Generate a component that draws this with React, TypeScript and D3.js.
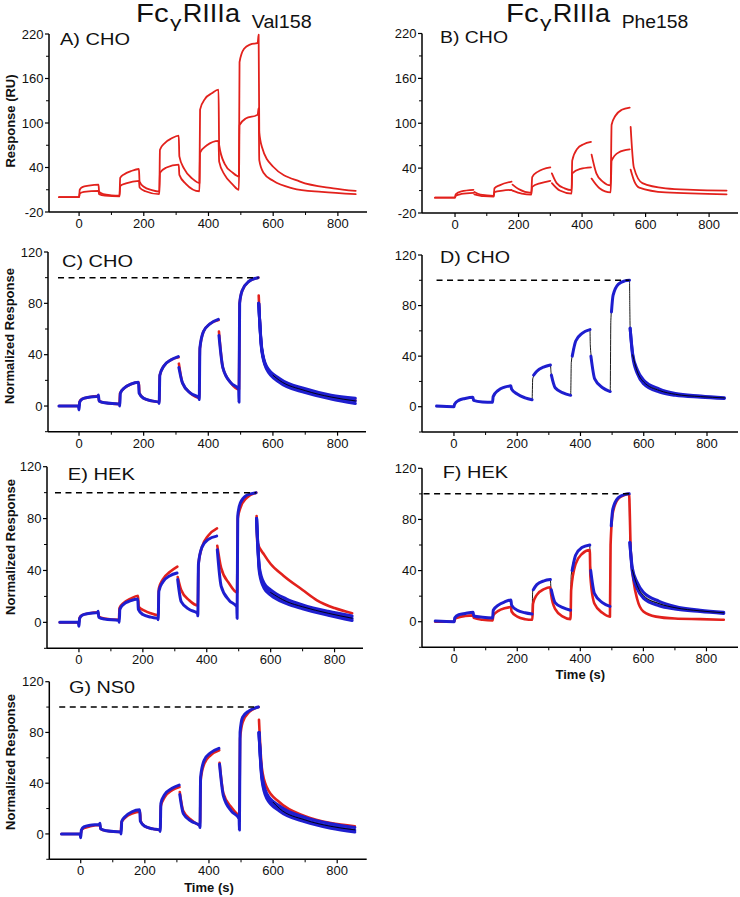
import React from "react";
import * as d3 from "d3";

type Pt = [number, number] | null;

const RED = "#e2211c";
const BLUE = "#1e1ecf";

// ---------- tick labels ----------
const rawMajor = [-20, 40, 100, 160, 220];
const rawMinor = [10, 70, 130, 190];
const normMajor = [0, 40, 80, 120];
const normMinor = [-20, 20, 60, 100];
const timeMajor = [0, 200, 400, 600, 800];
const timeMinor = [100, 300, 500, 700];

// ---------- Panel A: Val158 CHO (RU) ----------
const aUpper: Pt[] = [
  [-62, 0], [0, 0], [2, 10], [10, 13.5], [30, 15.5], [60, 17],
  [62, 7], [75, 4], [100, 2.5], [125, 2],
  [127, 26], [140, 31], [160, 35], [185, 38],
  [187, 21], [200, 14], [225, 9.5], [248, 7.5],
  [250, 64], [265, 73], [285, 79], [308, 83],
  [310, 55], [325, 38], [350, 25], [372, 19],
  [374, 118], [390, 133], [410, 140], [431, 145],
  [433, 70], [450, 45], [475, 33], [494, 28],
  [496, 182], [510, 200], [530, 206], [552, 208], [555, 219],
  [557, 88], [565, 68], [600, 41], [683, 21], [786, 12], [855, 8.5],
];
const aLower: Pt[] = [
  [-62, 0], [0, 0], [2, 5], [15, 7], [60, 8.5],
  [62, 4], [80, 2], [125, 1],
  [127, 15], [145, 18.5], [185, 22],
  [187, 13], [205, 8], [248, 4],
  [250, 33], [270, 40], [308, 44],
  [310, 30], [330, 18], [372, 8],
  [374, 60], [395, 70], [431, 76],
  [433, 48], [450, 30], [475, 17], [494, 10],
  [496, 97], [515, 106], [552, 111], [555, 120],
  [557, 50], [570, 33], [600, 22], [660, 12], [750, 7], [855, 4],
];

// ---------- Panel B: Phe158 CHO (RU) ----------
const bUpper: Pt[] = [
  [-63, 0.5], [0, 0.5], [2, 5], [20, 9], [58, 11], null,
  [61, 8], [80, 4.5], [122, 3],
  [124, 13], [140, 17], [178, 22], null,
  [181, 18], [200, 12], [240, 7],
  [243, 28], [260, 35], [300, 41], null,
  [305, 33], [320, 20], [345, 13], [367, 10.5],
  [369, 50], [385, 66], [405, 72], [428, 75], null,
  [430, 58], [445, 33], [465, 22], [490, 17],
  [493, 98], [505, 110], [525, 118], [550, 121], null,
  [553, 95], [563, 41], [590, 20], [663, 13], [750, 11], [855, 10],
];
const bLower: Pt[] = [
  [-63, 0.5], [0, 0.5], [2, 3], [20, 5.5], [58, 7], null,
  [61, 5], [90, 2.5], [122, 2],
  [124, 8], [150, 10], [178, 11], null,
  [181, 10], [210, 6], [240, 4.5],
  [243, 15], [270, 20], [300, 23], null,
  [305, 20], [330, 10], [367, 6],
  [369, 33], [395, 39], [428, 41], null,
  [430, 26], [455, 13], [490, 7.5],
  [493, 50], [515, 61], [550, 65], null,
  [553, 38], [565, 22], [580, 14], [663, 7.5], [855, 5],
];

// ---------- Panel C: Val158 CHO normalized ----------
const cRed: Pt[] = [
  [-62, 0], [0, 0], [2, 3.5], [10, 5.5], [30, 6.8], [60, 7.8],
  [62, 4], [80, 2.5], [125, 1.5],
  [127, 10], [140, 14], [160, 17], [185, 18.5],
  [187, 10], [200, 6], [225, 4], [248, 3],
  [250, 24], [262, 31], [285, 36], [308, 38], null,
  [309, 33], [320, 18], [345, 10], [372, 6.5],
  [374, 45], [385, 58], [405, 64], [432, 67], null,
  [433, 58], [445, 30], [470, 18], [495, 13],
  [497, 80], [505, 90], [525, 97], [555, 100], null,
  [556, 86], [565, 45], [580, 30], [620, 20], [700, 12], [780, 7], [855, 4.5],
];
const cBlue: Pt[] = [
  [-62, 0], [-2, 0], [0, -3], [2, 3], [10, 5.5], [30, 6.8], [58, 7.5], [60, 8.5],
  [62, 4], [80, 2.5], [125, 1.5],
  [126, 0], [128, 10], [140, 14], [160, 17], [184, 18.5],
  [186, 10], [200, 6], [225, 4], [247, 3],
  [248, 2], [250, 24], [262, 31], [285, 36], [307, 38.5], null,
  [309, 30], [320, 18], [345, 10], [371, 6.5],
  [372, 5], [374, 45], [385, 58], [405, 64], [431, 67.5], null,
  [433, 55], [445, 30], [470, 18], [494, 13],
  [495, 3], [497, 80], [505, 90], [525, 97], [554, 100], null,
  [556, 80], [565, 45], [580, 30], [620, 20], [700, 12], [780, 7], [855, 4],
];
const cBlueTail2: Pt[] = [[556, 80], [565, 46], [580, 31], [620, 21.5], [700, 13.5], [780, 8.5], [855, 6]];
const cBlueTail3: Pt[] = [[556, 80], [565, 44], [580, 29], [620, 18.5], [700, 10.5], [780, 5.5], [855, 2]];
const cFitTail: Pt[] = [[600, 24], [620, 20], [700, 12], [780, 7], [855, 4]];

// ---------- Panel D: Phe158 CHO normalized ----------
const dFit: Pt[] = [
  [-55, 0], [0, 0], [2, 2], [15, 5], [35, 6.5], [60, 7.5],
  [62, 5], [90, 3.8], [122, 3.5],
  [124, 8], [140, 13], [160, 15.5], [180, 16.5],
  [182, 14], [200, 10], [225, 7], [247, 5.5],
  [249, 22], [262, 28], [285, 31.5], [305, 33],
  [307, 27], [320, 15], [345, 11], [369, 9],
  [371, 35], [385, 52], [405, 58], [430, 61],
  [431, 49], [435, 38], [445, 22], [470, 15], [494, 12],
  [496, 68], [503, 88], [520, 97], [540, 99.5], [555, 100],
  [556, 78], [557, 62], [565, 40], [580, 27], [600, 19], [650, 12.5], [700, 9.5], [780, 8], [855, 7],
];
const dBlue: Pt[] = [
  [-55, 0.5], [0, 0], [2, 2], [15, 5], [35, 6.5], [60, 7.5],
  [62, 5], [90, 3.8], [122, 3.5], [124, 8], [140, 13], [160, 15.5], [180, 16.5],
  [182, 14], [200, 10], [225, 7], [247, 5.5], null,
  [252, 25], [262, 28], [285, 31.5], [305, 33], null,
  [308, 25], [320, 15], [345, 11], [369, 9], null,
  [374, 40], [385, 52], [405, 58], [430, 61], null,
  [433, 40], [445, 22], [470, 15], [494, 12], null,
  [498, 75], [503, 88], [520, 97], [540, 99.5], [555, 100], null,
  [557, 62], [565, 40], [580, 26], [600, 18], [650, 11.5], [700, 9], [780, 7.5], [855, 6.5],
];
const dBlueTail2: Pt[] = [[557, 62], [565, 42], [580, 29], [600, 21], [650, 14], [700, 10.5], [780, 8.5], [855, 7]];
const dFitTail: Pt[] = [[565, 41], [580, 27.5], [600, 19.5], [650, 12.8], [700, 9.8], [780, 8], [855, 7]];

// ---------- Panel E: Val158 HEK normalized ----------
const eRed: Pt[] = [
  [-60, 0], [0, 0], [2, 3.5], [10, 5.5], [30, 6.8], [60, 7.8],
  [62, 4.5], [80, 3], [125, 2],
  [127, 11], [140, 15], [160, 18], [185, 20.5],
  [187, 12], [205, 9], [225, 7], [248, 5.5],
  [250, 26], [262, 33], [285, 39], [308, 43], null,
  [309, 35], [320, 25], [345, 17], [372, 13],
  [374, 45], [385, 58], [405, 67], [432, 72.5], null,
  [433, 59], [445, 42], [470, 30], [495, 23],
  [497, 80], [505, 88], [525, 96], [555, 100], null,
  [556, 82], [558, 62], [580, 52], [600, 45], [640, 36], [700, 25], [745, 17], [800, 11], [855, 7],
];
const eBlue: Pt[] = [
  [-60, 0], [-2, 0], [0, -3], [2, 3], [10, 5.5], [30, 6.8], [58, 7.5], [60, 8.5],
  [62, 4], [80, 2.5], [125, 1.5],
  [126, 0], [128, 10], [140, 14], [160, 16.5], [184, 18],
  [186, 10], [200, 6], [225, 4], [247, 3],
  [248, 2], [250, 24], [262, 31], [285, 36], [307, 38], null,
  [309, 33], [320, 16], [345, 10], [371, 7],
  [372, 5], [374, 45], [385, 58], [405, 64], [431, 66.5], null,
  [433, 56], [445, 28], [470, 17], [494, 12],
  [495, 3], [497, 82], [505, 92], [525, 98], [554, 100], null,
  [556, 80], [565, 40], [580, 28], [600, 23], [650, 16], [700, 12], [780, 7], [855, 3],
];
const eBlueTail2: Pt[] = [[556, 80], [565, 42], [580, 30], [600, 25], [650, 18], [700, 13.5], [780, 8.5], [855, 5]];
const eBlueTail3: Pt[] = [[556, 80], [565, 38], [580, 26], [600, 21], [650, 14.5], [700, 10.5], [780, 5.5], [855, 1.5]];
const eFitTail: Pt[] = [[600, 23], [650, 16], [700, 12], [780, 7], [855, 3.2]];

// ---------- Panel F: Phe158 HEK normalized ----------
const fFit: Pt[] = [
  [-60, 0.5], [0, 0], [2, 3], [15, 5.5], [35, 6.5], [60, 7.5],
  [62, 4.5], [90, 3.5], [122, 3],
  [124, 9], [140, 13], [160, 15.5], [180, 17],
  [182, 13], [200, 9], [225, 7], [247, 6],
  [249, 24], [262, 29], [285, 32], [305, 33],
  [307, 26], [320, 15], [345, 11], [369, 9],
  [371, 36], [385, 52], [405, 58], [430, 60],
  [431, 49], [435, 38], [445, 22], [470, 15], [494, 12],
  [496, 68], [503, 88], [520, 97], [540, 99.5], [555, 100],
  [556, 78], [557, 62], [565, 40], [580, 28], [600, 20], [650, 14], [700, 11], [780, 8.5], [855, 7],
];
const fBlue: Pt[] = [
  [-60, 0.5], [0, 0], [2, 3], [15, 5.5], [35, 6.5], [60, 7.5],
  [62, 4.5], [90, 3.5], [122, 3], [124, 9], [140, 13], [160, 15.5], [180, 17],
  [182, 13], [200, 9], [225, 7], [247, 6], null,
  [251, 25], [262, 29], [285, 32], [305, 33], null,
  [308, 25], [320, 15], [345, 11], [369, 9], null,
  [374, 40], [385, 52], [405, 58], [430, 60], null,
  [433, 40], [445, 22], [470, 15], [494, 12], null,
  [498, 75], [503, 88], [520, 97], [540, 99.5], [555, 100], null,
  [557, 62], [565, 39], [580, 26], [600, 18.5], [650, 12.5], [700, 10], [780, 8], [855, 6.5],
];
const fBlueTail2: Pt[] = [[557, 62], [565, 42], [580, 31], [600, 23], [650, 16], [700, 12], [780, 9], [855, 7.5]];
const fFitTail: Pt[] = [[565, 40.5], [580, 28.5], [600, 20.7], [650, 14.2], [700, 11], [780, 8.5], [855, 7]];
const fRed: Pt[] = [
  [-60, 0], [0, 0], [2, 2], [15, 3.5], [35, 4.5], [60, 5],
  [62, 3], [90, 1.5], [122, 1],
  [124, 5], [140, 8.5], [160, 10.5], [180, 11.5],
  [182, 8], [200, 4], [225, 2], [248, 1.5],
  [250, 14], [262, 21], [285, 25.5], [305, 27],
  [307, 22], [320, 10], [345, 4], [369, 2],
  [371, 25], [385, 45], [405, 53], [430, 56],
  [432, 35], [445, 14], [470, 7], [494, 4],
  [496, 60], [503, 85], [520, 96], [540, 99], [555, 100],
  [556, 93], [560, 55], [570, 30], [580, 18], [600, 8], [640, 4], [700, 2.5], [780, 2], [855, 1.5],
];

// ---------- Panel G: Val158 NS0 normalized ----------
const gRed: Pt[] = [
  [-60, 0], [0, 0], [3, 3], [10, 4.5], [30, 6], [60, 7],
  [62, 4], [80, 2.5], [125, 1.5],
  [127, 9], [140, 13], [160, 16], [185, 17.5],
  [187, 10], [200, 6], [225, 4], [248, 3],
  [250, 22], [262, 29], [285, 34.5], [308, 37], null,
  [309, 33], [320, 18], [345, 11], [372, 7],
  [374, 42], [385, 55], [405, 62], [432, 66], null,
  [433, 56], [445, 32], [470, 21], [495, 15],
  [497, 75], [505, 88], [525, 96], [555, 100], null,
  [556, 90], [565, 52], [580, 37], [620, 25], [700, 14], [780, 8.5], [855, 6],
];
const gBlue: Pt[] = [
  [-60, 0], [-2, 0], [0, -3], [2, 3], [10, 5.5], [30, 6.8], [58, 7.5], [60, 8.5],
  [62, 4], [80, 2.5], [125, 1.5],
  [126, 0], [128, 10], [140, 14], [160, 17.5], [184, 19],
  [186, 10], [200, 6], [225, 4], [247, 3],
  [248, 2], [250, 24], [262, 31], [285, 36], [307, 38.5], null,
  [309, 31], [320, 16], [345, 10], [371, 6.5],
  [372, 5], [374, 45], [385, 58], [405, 64], [431, 67.5], null,
  [433, 55], [445, 30], [470, 18], [494, 12],
  [495, 3], [497, 80], [505, 92], [525, 97], [554, 100], null,
  [556, 80], [565, 45], [580, 30], [620, 20], [700, 11], [780, 6], [855, 3],
];
const gBlueTail2: Pt[] = [[556, 80], [565, 47], [580, 32], [620, 22], [700, 13], [780, 8], [855, 5]];
const gBlueTail3: Pt[] = [[556, 80], [565, 43], [580, 28], [620, 18], [700, 9.5], [780, 4.5], [855, 1.5]];
const gFitTail: Pt[] = [[600, 25], [620, 20], [700, 11], [780, 6], [855, 3.2]];

// dashed 100% reference line start times (end at 555 s)
const dashStarts = [-65, -55, -75, -97, -67];
const dashEnd = 555;

type Series = { data: Pt[]; color: string; width: number };
type PanelCfg = {
  x0: number; x1: number; xd: [number, number];
  y0: number; y1: number; yd: [number, number];
  major: number[]; minor: number[];
  label: string; lx: number; ly: number; lw: number;
  series: Series[];
  dashStart?: number;
  yTitle?: string; yTitleX?: number; yTitleY?: number;
  xTitle?: boolean; xTitleY?: number;
};

const FONT = "'Liberation Sans', Arial, Helvetica, sans-serif";

function Panel({ c }: { c: PanelCfg }) {
  const x = d3.scaleLinear().domain(c.xd).range([c.x0, c.x1]);
  const y = d3.scaleLinear().domain(c.yd).range([c.y0, c.y1]);
  const line = d3
    .line<Pt>()
    .defined((d) => d !== null)
    .x((d) => x((d as [number, number])[0]))
    .y((d) => y((d as [number, number])[1]))
    .curve(d3.curveMonotoneX);
  return (
    <g>
      {c.series.map((s, i) => (
        <path key={i} d={line(s.data) || ""} fill="none" stroke={s.color} strokeWidth={s.width}
          strokeLinejoin="round" strokeLinecap="round" />
      ))}
      {c.dashStart !== undefined && (
        <line x1={x(c.dashStart)} x2={x(dashEnd)} y1={y(100)} y2={y(100)} stroke="#000"
          strokeWidth={1.5} strokeDasharray="6,4.5" />
      )}
      <line x1={c.x0} x2={c.x0} y1={c.y0} y2={c.y1} stroke="#000" strokeWidth={1.5} />
      <line x1={c.x0} x2={c.x1} y1={c.y0} y2={c.y0} stroke="#000" strokeWidth={1.5} />
      {c.major.map((v) => (
        <g key={"ym" + v}>
          <line x1={c.x0 - 4} x2={c.x0} y1={y(v)} y2={y(v)} stroke="#000" strokeWidth={1.2} />
          <text x={c.x0 - 5.5} y={y(v)} dy="0.36em" textAnchor="end" fontSize={13} fontFamily={FONT} fill="#111">
            {v}
          </text>
        </g>
      ))}
      {c.minor.map((v) => (
        <line key={"yn" + v} x1={c.x0 - 3} x2={c.x0} y1={y(v)} y2={y(v)} stroke="#000" strokeWidth={1} />
      ))}
      {timeMajor.map((v) => (
        <g key={"xm" + v}>
          <line x1={x(v)} x2={x(v)} y1={c.y0} y2={c.y0 + 4} stroke="#000" strokeWidth={1.2} />
          <text x={x(v)} y={c.y0 + 16} textAnchor="middle" fontSize={13} fontFamily={FONT} fill="#111">
            {v}
          </text>
        </g>
      ))}
      {timeMinor.map((v) => (
        <line key={"xn" + v} x1={x(v)} x2={x(v)} y1={c.y0} y2={c.y0 + 3} stroke="#000" strokeWidth={1} />
      ))}
      <text x={c.lx} y={c.ly} fontSize={17} fontFamily={FONT} fill="#111" textLength={c.lw}
        lengthAdjust="spacingAndGlyphs">
        {c.label}
      </text>
      {c.yTitle && (
        <text transform={`translate(${c.yTitleX},${c.yTitleY}) rotate(-90)`} textAnchor="middle"
          fontSize={13} fontWeight="bold" fontFamily={FONT} fill="#111">
          {c.yTitle}
        </text>
      )}
      {c.xTitle && (
        <text x={x(400)} y={c.xTitleY} textAnchor="middle" fontSize={13} fontWeight="bold" fontFamily={FONT} fill="#111">
          Time (s)
        </text>
      )}
    </g>
  );
}

function Title({ dx, variant, vw }: { dx: number; variant: string; vw: number }) {
  return (
    <g fontFamily={FONT} fill="#111">
      <text x={136 + dx} y={22.3} fontSize={25} textLength={32.6} lengthAdjust="spacingAndGlyphs">Fc</text>
      <text x={170 + dx} y={28} fontSize={16} textLength={11.5} lengthAdjust="spacingAndGlyphs">γ</text>
      <text x={182.7 + dx} y={22.3} fontSize={25} textLength={57.3} lengthAdjust="spacingAndGlyphs">RIIIa</text>
      <text x={251.7 + dx} y={28.3} fontSize={18} textLength={vw} lengthAdjust="spacingAndGlyphs">{variant}</text>
    </g>
  );
}

export default function App() {
  const redRaw = (d: Pt[]): Series => ({ data: d, color: RED, width: 1.8 });
  const red = (d: Pt[]): Series => ({ data: d, color: RED, width: 2.6 });
  const blue = (d: Pt[]): Series => ({ data: d, color: BLUE, width: 3 });
  const fit = (d: Pt[]): Series => ({ data: d, color: "#000", width: 0.9 });

  const panels: PanelCfg[] = [
    {
      x0: 49, x1: 367, xd: [-93, 890], y0: 212, y1: 34, yd: [-20, 220],
      major: rawMajor, minor: rawMinor, label: "A) CHO", lx: 60, ly: 45, lw: 70,
      series: [redRaw(aUpper), redRaw(aLower)],
      yTitle: "Response (RU)", yTitleX: 14.5, yTitleY: 121,
    },
    {
      x0: 422, x1: 738, xd: [-104, 891], y0: 213, y1: 33.5, yd: [-20, 220],
      major: rawMajor, minor: rawMinor, label: "B) CHO", lx: 440, ly: 43.3, lw: 68,
      series: [redRaw(bUpper), redRaw(bLower)],
    },
    {
      x0: 48, x1: 366, xd: [-96, 888], y0: 431.7, y1: 252, yd: [-20, 120],
      major: normMajor, minor: normMinor, label: "C) CHO", lx: 62, ly: 266.7, lw: 71,
      series: [red(cRed), blue(cBlue), blue(cBlueTail2), blue(cBlueTail3), fit(cFitTail)],
      dashStart: dashStarts[0],
      yTitle: "Normalized Response", yTitleX: 14, yTitleY: 336,
    },
    {
      x0: 422, x1: 738, xd: [-101, 898], y0: 432, y1: 255, yd: [-20, 120],
      major: normMajor, minor: normMinor, label: "D) CHO", lx: 440, ly: 262.7, lw: 70,
      series: [fit(dFit), blue(dBlue), blue(dBlueTail2), fit(dFitTail)],
      dashStart: dashStarts[1],
    },
    {
      x0: 47, x1: 363, xd: [-100, 889], y0: 648.3, y1: 466.7, yd: [-20, 120],
      major: normMajor, minor: normMinor, label: "E) HEK", lx: 67.7, ly: 480, lw: 67.3,
      series: [red(eRed), blue(eBlue), blue(eBlueTail2), blue(eBlueTail3), fit(eFitTail)],
      dashStart: dashStarts[2],
      yTitle: "Normalized Response", yTitleX: 15, yTitleY: 547,
    },
    {
      x0: 422, x1: 738, xd: [-102, 900], y0: 647.3, y1: 468.3, yd: [-20, 120],
      major: normMajor, minor: normMinor, label: "F) HEK", lx: 442.7, ly: 478.3, lw: 65.3,
      series: [fit(fFit), red(fRed), blue(fBlue), blue(fBlueTail2), fit(fFitTail)],
      dashStart: dashStarts[3],
      xTitle: true, xTitleY: 679,
    },
    {
      x0: 49.3, x1: 366.7, xd: [-98, 892], y0: 859.3, y1: 681.7, yd: [-20, 120],
      major: normMajor, minor: normMinor, label: "G) NS0", lx: 69, ly: 693.3, lw: 66,
      series: [red(gRed), blue(gBlue), blue(gBlueTail2), blue(gBlueTail3), fit(gFitTail)],
      dashStart: dashStarts[4],
      yTitle: "Normalized Response", yTitleX: 15, yTitleY: 762,
      xTitle: true, xTitleY: 892,
    },
  ];

  return (
    <svg width={740} height={897} style={{ position: "absolute", left: 0, top: 0, background: "#fff" }}>
      <rect width={740} height={897} fill="#fff" />
      <Title dx={0} variant="Val158" vw={60} />
      <Title dx={370} variant="Phe158" vw={66.7} />
      {panels.map((p, i) => (
        <Panel key={i} c={p} />
      ))}
    </svg>
  );
}
